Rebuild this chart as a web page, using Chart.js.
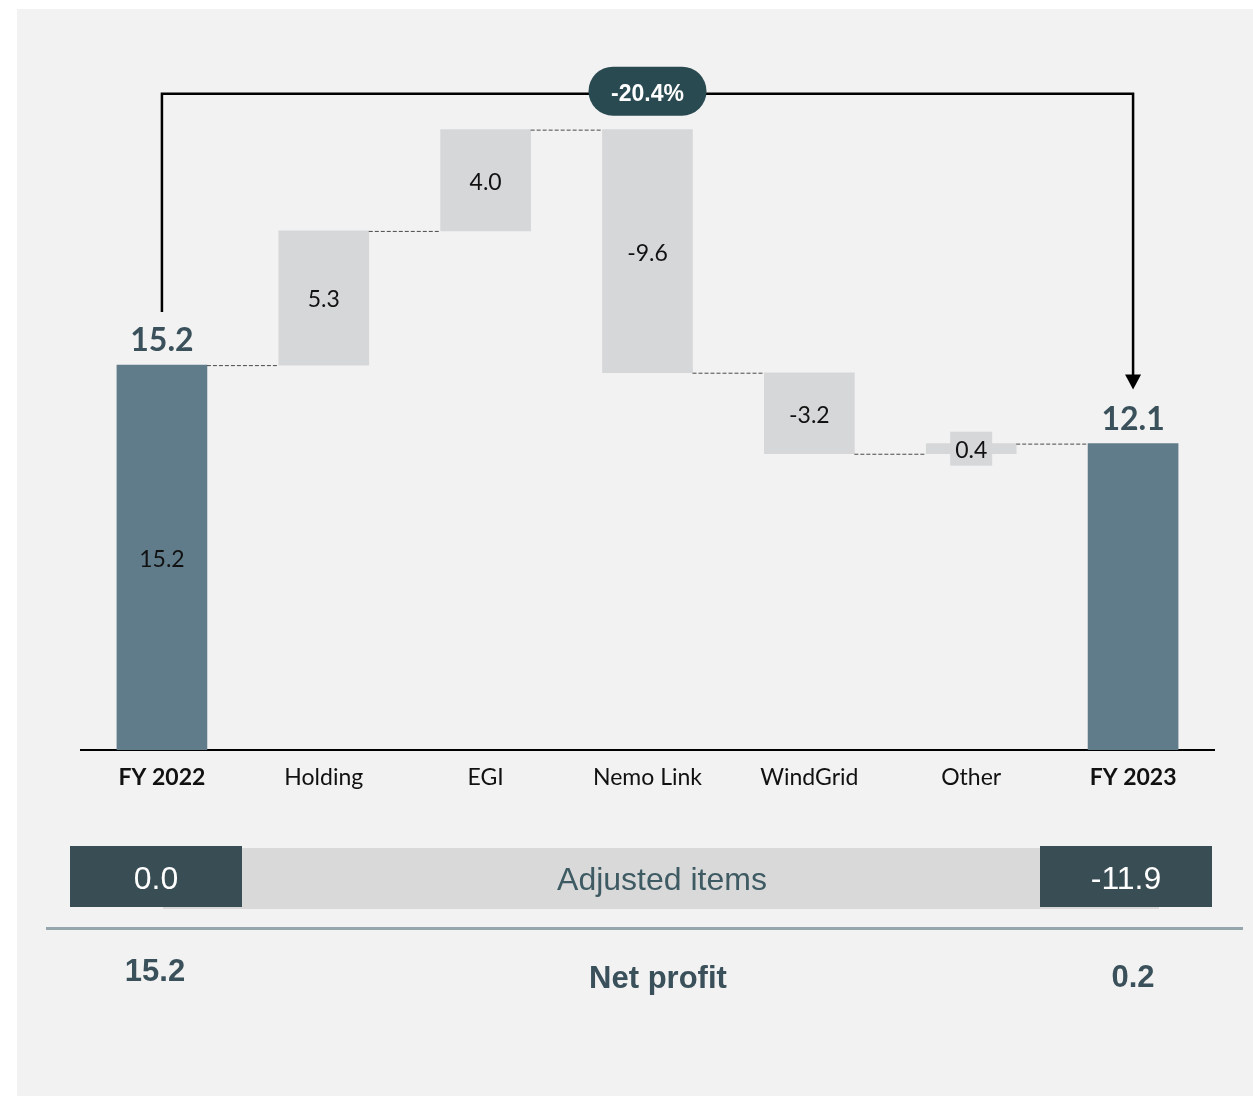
<!DOCTYPE html>
<html>
<head>
<meta charset="utf-8">
<script src="https://cdn.jsdelivr.net/npm/chart.js@4"></script>
<style>
  body { margin: 0; background: #ffffff; }
  canvas { display: block; }
</style>
</head>
<body>
<canvas id="bridgeChart" width="1253" height="1097"></canvas>
<script>
// Data
const categories = ['FY 2022', 'Holding', 'EGI', 'Nemo Link', 'WindGrid', 'Other', 'FY 2023'];
const changes = [15.2, 5.3, 4.0, -9.6, -3.2, 0.4, 12.1]; // first and last are totals
const isTotal = [true, false, false, false, false, false, true];
const adjustedItems = [0.0, -11.9];
const netProfit = [15.2, 0.2];
const changeLabel = '-20.4%';

// Colors
const totalColor = '#607c8a';
const deltaColor = '#d6d7d9';
const darkText = '#3a505a';
const chartFont = 'Lato, "Open Sans", sans-serif';
const tableFont = '"Liberation Sans", Arial, sans-serif';

// floating bars [start, end]
let running = 0;
const floating = changes.map((v, i) => {
    if (isTotal[i]) {
        running = v;
        return [0, v];
    }
    const start = running;
    running = Math.round((running + v) * 10) / 10;
    return [start, running];
});

function roundRect(ctx, x, y, w, h, r) {
    ctx.beginPath();
    ctx.moveTo(x + r, y);
    ctx.lineTo(x + w - r, y);
    ctx.arc(x + w - r, y + r, r, -Math.PI / 2, Math.PI / 2);
    ctx.lineTo(x + r, y + h);
    ctx.arc(x + r, y + r, r, Math.PI / 2, Math.PI * 1.5);
    ctx.closePath();
}

const panelBackground = {
    id: 'panelBackground',
    beforeDraw(chart) {
        const ctx = chart.ctx;
        ctx.save();
        ctx.fillStyle = '#ffffff';
        ctx.fillRect(0, 0, chart.width, chart.height);
        ctx.fillStyle = '#f2f2f2';
        ctx.fillRect(17, 9, chart.width - 17, 1087);
        ctx.restore();
    }
};

const waterfallExtras = {
    id: 'waterfallExtras',
    afterDatasetsDraw(chart) {
        const ctx = chart.ctx;
        const bars = chart.getDatasetMeta(0).data;
        const y = chart.scales.y;
        ctx.save();

        // connectors
        ctx.strokeStyle = '#4a4a4a';
        ctx.lineWidth = 1;
        ctx.setLineDash([4, 2]);
        for (let i = 0; i < bars.length - 1; i++) {
            const level = y.getPixelForValue(floating[i][1]);
            const a = bars[i], b = bars[i + 1];
            ctx.beginPath();
            ctx.moveTo(a.x + a.width / 2, level + 0.5);
            ctx.lineTo(b.x - b.width / 2, level + 0.5);
            ctx.stroke();
        }
        ctx.setLineDash([]);

        // value labels
        ctx.textAlign = 'center';
        ctx.textBaseline = 'middle';
        bars.forEach((bar, i) => {
            const top = Math.min(bar.y, bar.base);
            const mid = (bar.y + bar.base) / 2;
            const txt = changes[i].toFixed(1);
            if (isTotal[i]) {
                ctx.font = 'bold 32px ' + chartFont;
                ctx.fillStyle = darkText;
                ctx.fillText(txt, bar.x, top - 24);
                if (i === 0) {
                    ctx.font = '23px ' + chartFont;
                    ctx.fillStyle = '#111111';
                    ctx.fillText(txt, bar.x, mid + 2);
                }
            } else {
                ctx.font = '23px ' + chartFont;
                if (Math.abs(bar.base - bar.y) < 30) {
                    ctx.fillStyle = deltaColor;
                    ctx.fillRect(bar.x - 21, mid - 17, 42, 34);
                }
                ctx.fillStyle = '#111111';
                ctx.fillText(txt, bar.x, mid + 2);
            }
        });

        // bracket with arrow
        const first = bars[0], last = bars[bars.length - 1];
        const peak = Math.max(...floating.map(f => f[1]));
        const lineY = y.getPixelForValue(peak) - 36;
        const startY = Math.min(first.y, first.base) - 53;
        const tipY = Math.min(last.y, last.base) - 54;
        ctx.strokeStyle = '#000000';
        ctx.lineWidth = 2.5;
        ctx.beginPath();
        ctx.moveTo(first.x, startY);
        ctx.lineTo(first.x, lineY);
        ctx.lineTo(last.x, lineY);
        ctx.lineTo(last.x, tipY - 14);
        ctx.stroke();
        ctx.fillStyle = '#000000';
        ctx.beginPath();
        ctx.moveTo(last.x - 8, tipY - 15);
        ctx.lineTo(last.x + 8, tipY - 15);
        ctx.lineTo(last.x, tipY);
        ctx.closePath();
        ctx.fill();

        // change pill
        const cx = (first.x + last.x) / 2;
        ctx.fillStyle = '#2a4a52';
        roundRect(ctx, cx - 59, lineY - 27, 118, 49, 24.5);
        ctx.fill();
        ctx.fillStyle = '#ffffff';
        ctx.font = 'bold 23px ' + tableFont;
        ctx.fillText(changeLabel, cx, lineY + 1);

        ctx.restore();
    }
};

const bottomTable = {
    id: 'bottomTable',
    afterDraw(chart) {
        const ctx = chart.ctx;
        ctx.save();
        ctx.textAlign = 'center';
        ctx.textBaseline = 'middle';

        // adjusted items band
        ctx.fillStyle = '#d9d9d9';
        ctx.fillRect(163, 848, 996, 61);
        ctx.fillStyle = '#394d55';
        ctx.fillRect(70, 846, 172, 61);
        ctx.fillRect(1040, 846, 172, 61);
        ctx.font = '32px ' + tableFont;
        ctx.fillStyle = '#ffffff';
        ctx.fillText(adjustedItems[0].toFixed(1), 156, 880);
        ctx.fillText(adjustedItems[1].toFixed(1), 1126, 880);
        ctx.fillStyle = '#3e5a63';
        ctx.fillText('Adjusted items', 662, 881);

        // separator
        ctx.fillStyle = '#95a7ad';
        ctx.fillRect(46, 927, 1197, 3);

        // net profit row
        ctx.font = 'bold 31px ' + tableFont;
        ctx.fillStyle = darkText;
        ctx.fillText(netProfit[0].toFixed(1), 155, 972);
        ctx.fillText('Net profit', 658, 979);
        ctx.fillText(netProfit[1].toFixed(1), 1133, 978);
        ctx.restore();
    }
};

const ctx = document.getElementById('bridgeChart').getContext('2d');
new Chart(ctx, {
    type: 'bar',
    data: {
        labels: categories,
        datasets: [{
            data: floating,
            backgroundColor: isTotal.map(t => t ? totalColor : deltaColor),
            borderWidth: 0,
            borderSkipped: false,
            barThickness: 90
        }]
    },
    options: {
        responsive: false,
        animation: false,
        layout: {
            padding: { left: 81, right: 39, top: 41, bottom: 287 }
        },
        plugins: {
            legend: { display: false },
            tooltip: { enabled: false }
        },
        scales: {
            x: {
                grid: { display: false, drawTicks: false },
                border: { display: true, color: '#000000', width: 2 },
                ticks: {
                    padding: 14,
                    color: '#111111',
                    font: c => ({
                        family: chartFont,
                        size: 23,
                        weight: isTotal[c.index] ? 'bold' : 'normal'
                    })
                },
                afterFit: scale => { scale.height = 60; }
            },
            y: {
                display: false,
                min: 0,
                max: 28
            }
        }
    },
    plugins: [panelBackground, waterfallExtras, bottomTable]
});
</script>
</body>
</html>
